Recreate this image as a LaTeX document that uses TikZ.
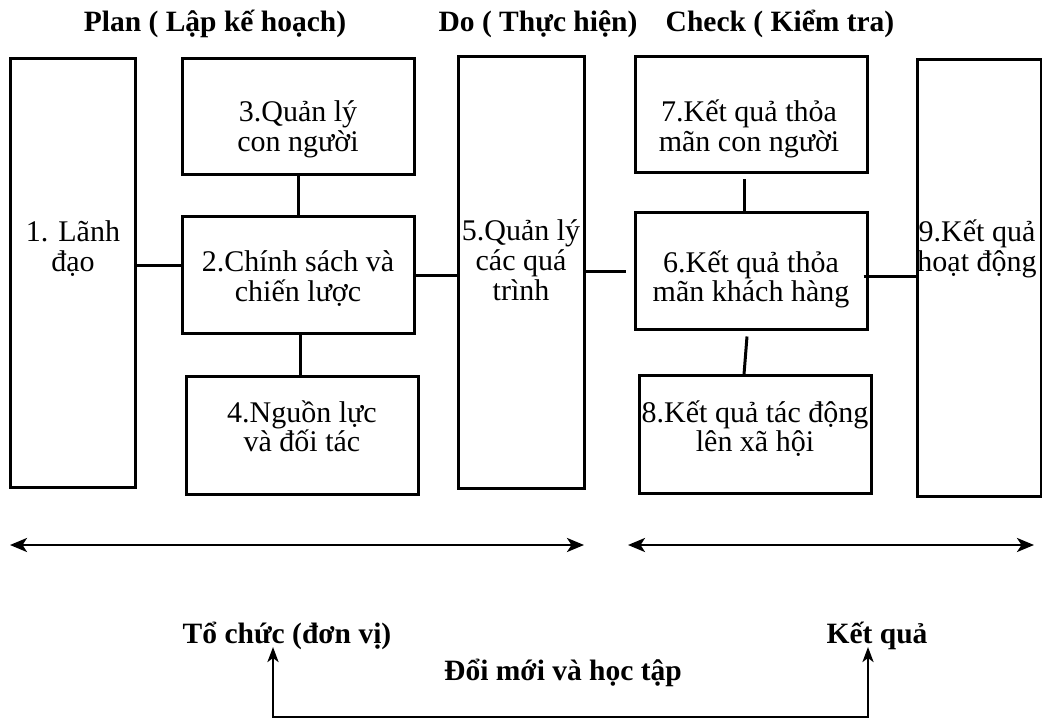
\documentclass[tikz,border=0pt]{standalone}
\usepackage{fontspec}
\setmainfont{Liberation Serif}
\usetikzlibrary{arrows.meta}
\begin{document}
\begin{tikzpicture}[x=1pt,y=-1pt,
  box/.style={draw, line width=3pt, inner sep=0pt, rectangle},
  txt/.style={anchor=base, align=center, inner sep=0pt, font=\fontsize{30}{30}\selectfont},
  txtb/.style={anchor=base, align=center, inner sep=0pt, font=\fontsize{30}{29}\selectfont},
  ttl/.style={anchor=base, inner sep=0pt, font=\bfseries\fontsize{29.5}{30}\selectfont},
  conn/.style={line width=3pt},
  harrow/.style={line width=2.8pt, {Stealth[length=17pt,width=14pt,inset=4.5pt]}-{Stealth[length=17pt,width=14pt,inset=4.5pt]}},
  varrow/.style={line width=2.8pt, {Stealth[length=15pt,width=11pt,inset=4pt]}-{Stealth[length=15pt,width=11pt,inset=4pt]}}
]
\useasboundingbox (0,0) rectangle (1042,719);
% boxes
\node[box, minimum width=125pt, minimum height=428pt] (b1) at (72.5,273) {};
\node[box, minimum width=232pt, minimum height=116pt] (b3) at (298,117) {};
\node[box, minimum width=232pt, minimum height=117pt] (b2) at (298,275.5) {};
\node[box, minimum width=232pt, minimum height=117pt] (b4) at (302,435.5) {};
\node[box, minimum width=126pt, minimum height=431pt] (b5) at (521,272.5) {};
\node[box, minimum width=232pt, minimum height=116pt] (b7) at (751,115) {};
\node[box, minimum width=232pt, minimum height=117pt] (b6) at (751,271.5) {};
\node[box, minimum width=232pt, minimum height=117pt] (b8) at (755,434.5) {};
\node[box, minimum width=124pt, minimum height=436pt] (b9) at (979,278) {};
% box texts (anchor base = baseline of last line)
\node[txt] (t1) at (73,272) {1. Lãnh\\đạo};
\node[txt] (t3) at (298,152) {3.Quản lý\\con người};
\node[txt] (t2) at (298,302) {2.Chính sách và\\chiến lược};
\node[txtb] (t4) at (302,451) {4.Nguồn lực\\và đối tác};
\node[txt] (t5) at (521,301) {5.Quản lý\\các quá\\trình};
\node[txt] (t7) at (749,152) {7.Kết quả thỏa\\mãn con người};
\node[txtb] (t6) at (751,302) {6.Kết quả thỏa\\mãn khách hàng};
\node[txtb] (t8) at (755,451) {8.Kết quả tác động\\lên xã hội};
\node[txt] (t9) at (977,272) {9.Kết quả\\hoạt động};
% titles
\node[ttl] (plan) at (215,32) {Plan ( Lập kế hoạch)};
\node[ttl] (do) at (538,32) {Do ( Thực hiện)};
\node[ttl] (check) at (780,32) {Check ( Kiểm tra)};
\node[ttl] (org) at (287,643) {Tổ chức (đơn vị)};
\node[ttl] (res) at (877,643) {Kết quả};
\node[ttl] (learn) at (563,680) {Đổi mới và học tập};
% connectors
\draw[conn] ([yshift=9.5pt]b2.west) -- ([yshift=9.5pt]b2.west -| b1.east);
\draw[conn] (b3.south) -- (b2.north);
\draw[conn] ([xshift=2pt]b2.south) -- ([xshift=2pt]b2.south |- b4.north);
\draw[conn] (b2.east) -- (b2.east -| b5.west);
\draw[conn] (b5.east |- b6.west) -- ([xshift=-8pt]b6.west);
\draw[conn] ([xshift=-7pt,yshift=-5pt]b7.south) -- ([xshift=-7pt]b7.south |- b6.north);
\draw[conn] ([xshift=-4pt,yshift=-5pt]b6.south) -- ([xshift=-7pt]b6.south |- b8.north);
\draw[conn] ([xshift=-5pt,yshift=-5.5pt]b6.east) -- ([yshift=-5.5pt]b6.east -| b9.west);
% long arrows
\coordinate (aL1) at (10,545);
\coordinate (aL2) at (584,545);
\coordinate (aR1) at (628,545);
\coordinate (aR2) at (1034,545);
\draw[harrow] (aL1) -- (aL2);
\draw[harrow] (aR1) -- (aR2);
% feedback loop
\coordinate (f1) at (273,647);
\coordinate (f2) at (273,717);
\coordinate (f3) at (868,717);
\coordinate (f4) at (868,647);
\draw[varrow] (f1) -- (f2) -- (f3) -- (f4);
\end{tikzpicture}
\end{document}
